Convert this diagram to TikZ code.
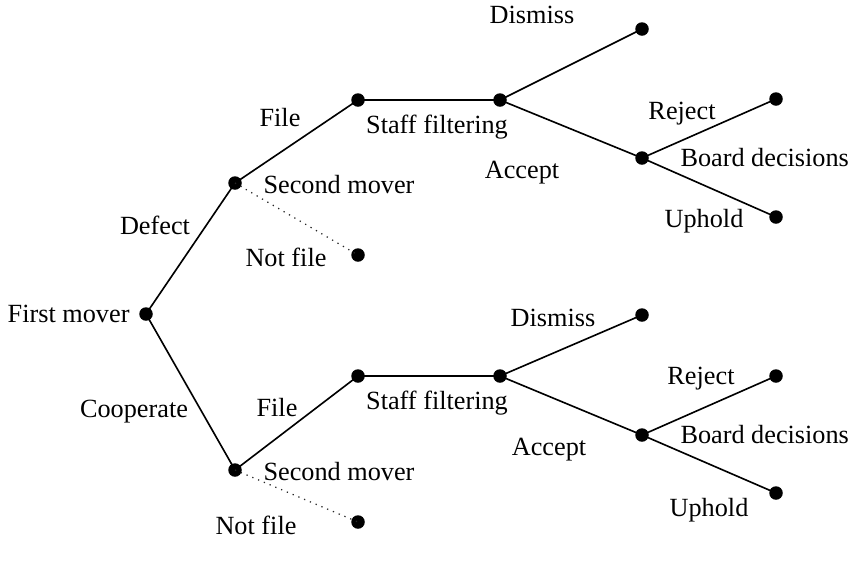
\documentclass[tikz,border=0pt]{standalone}
\usepackage{fontspec}
\setmainfont{Liberation Serif}
\begin{document}
\begin{tikzpicture}[x=0.4pt,y=-0.4pt,
  dot/.style={circle,fill=black,inner sep=0pt,minimum size=5.4pt},
  lbl/.style={inner sep=0pt,font=\fontsize{10.5}{12}\selectfont},
  edge/.style={line width=0.65pt},
  dedge/.style={line width=0.5pt,dotted,black!85}]
\useasboundingbox (0,0) rectangle (851,561);
% dots
\node[dot] (fm) at (146,314) {};
\node[dot] (sm1) at (235,183) {};
\node[dot] (sm2) at (235,470) {};
\node[dot] (f1) at (358,100) {};
\node[dot] (f2) at (358,376) {};
\node[dot] (nf1) at (358,255) {};
\node[dot] (nf2) at (358,522) {};
\node[dot] (sf1) at (500,100) {};
\node[dot] (sf2) at (500,376) {};
\node[dot] (d1) at (642,29) {};
\node[dot] (d2) at (642,315) {};
\node[dot] (bd1) at (642,158) {};
\node[dot] (bd2) at (642,435) {};
\node[dot] (r1) at (776,99) {};
\node[dot] (r2) at (776,376) {};
\node[dot] (u1) at (776,217) {};
\node[dot] (u2) at (776,493) {};
% edges
\draw[edge] (fm.center) -- (sm1.center);
\draw[edge] (fm.center) -- (sm2.center);
\draw[edge] (sm1.center) -- (f1.center);
\draw[edge] (sm2.center) -- (f2.center);
\draw[dedge] (sm1.center) -- (nf1.center);
\draw[dedge] (sm2.center) -- (nf2.center);
\draw[edge] (f1.center) -- (sf1.center);
\draw[edge] (f2.center) -- (sf2.center);
\draw[edge] (sf1.center) -- (d1.center);
\draw[edge] (sf2.center) -- (d2.center);
\draw[edge] (sf1.center) -- (bd1.center);
\draw[edge] (sf2.center) -- (bd2.center);
\draw[edge] (bd1.center) -- (r1.center);
\draw[edge] (bd2.center) -- (r2.center);
\draw[edge] (bd1.center) -- (u1.center);
\draw[edge] (bd2.center) -- (u2.center);
% labels
\node[lbl,anchor=east] (lfm) at (130,314) {First mover};
\node[lbl] (ldef) at (155,225) {Defect};
\node[lbl] (lcoop) at (134,412) {Cooperate};
\node[lbl] (lfile1) at (280,118) {File};
\node[lbl] (lfile2) at (277,408) {File};
\node[lbl,anchor=west] (lsm1) at (263,185) {Second mover};
\node[lbl,anchor=west] (lsm2) at (263,472) {Second mover};
\node[lbl] (lnf1) at (286,257) {Not file};
\node[lbl] (lnf2) at (256,525) {Not file};
\node[lbl] (lsf1) at (437,127) {Staff filtering};
\node[lbl] (lsf2) at (437,403) {Staff filtering};
\node[lbl] (ldis1) at (532,15) {Dismiss};
\node[lbl] (ldis2) at (553,318) {Dismiss};
\node[lbl] (lacc1) at (522,173) {Accept};
\node[lbl] (lacc2) at (549,450) {Accept};
\node[lbl] (lrej1) at (682,114) {Reject};
\node[lbl] (lrej2) at (701,379) {Reject};
\node[lbl,anchor=west] (lbd1) at (680,158) {Board decisions};
\node[lbl,anchor=west] (lbd2) at (680,435) {Board decisions};
\node[lbl] (lup1) at (704,221) {Uphold};
\node[lbl] (lup2) at (709,510) {Uphold};
\end{tikzpicture}
\end{document}
